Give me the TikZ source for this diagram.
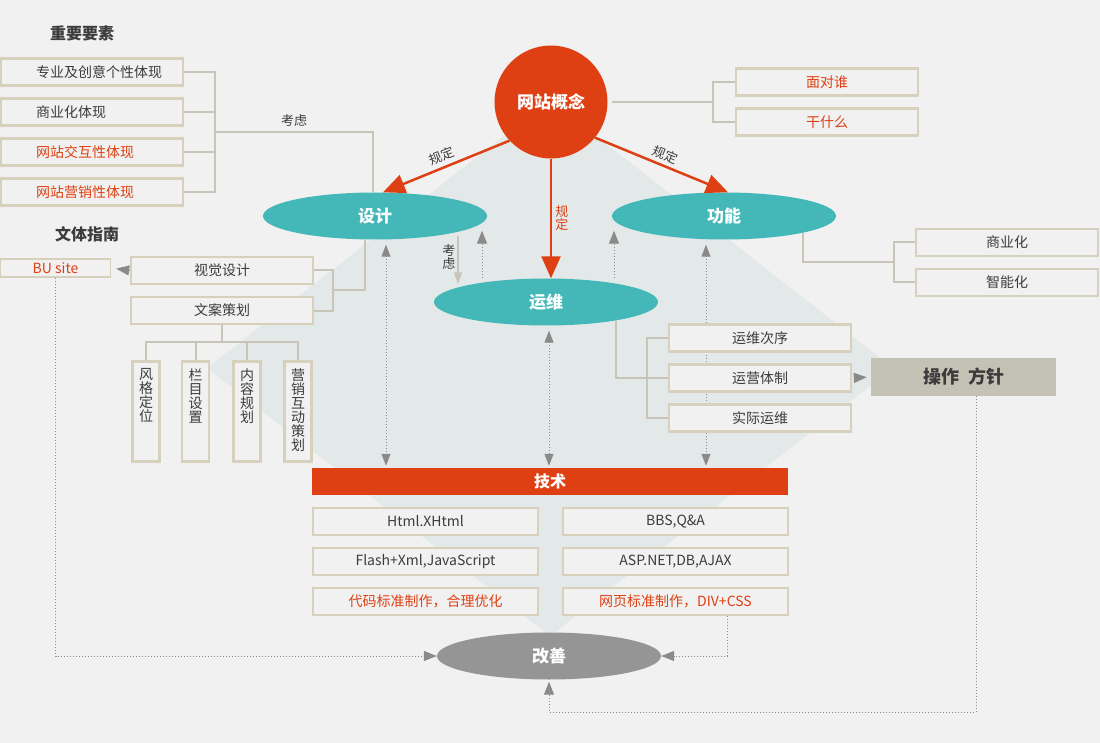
\documentclass[tikz,border=0pt]{standalone}
\usepackage{fontspec}
\setmainfont{Noto Sans CJK SC}
\usetikzlibrary{arrows.meta,shapes.geometric,positioning}
\definecolor{bgc}{HTML}{F0F1F0}
\definecolor{shadec}{HTML}{E3E8E8}
\definecolor{orng}{HTML}{DF4013}
\definecolor{tealc}{HTML}{44B8B8}
\definecolor{frm}{HTML}{D6D0BD}
\definecolor{lnk}{HTML}{C8C4B7}
\definecolor{tipc}{HTML}{8A8A8A}
\definecolor{txtc}{HTML}{3C3C3C}
\definecolor{grayell}{HTML}{959595}
\definecolor{czc}{HTML}{C4C1B5}
\newcommand{\sz}[1]{\fontsize{#1}{#1}\selectfont}
\newcommand{\vt}[1]{\parbox[t][86pt][t]{14pt}{\centering\sz{14}#1}}
\tikzset{
  box/.style={draw=frm, line width=2.5pt, fill=bgc, minimum width=182pt, minimum height=27pt, inner sep=0pt, text=txtc, font=\sz{14}},
  lbox/.style={box, align=left, text width=150pt, inner xsep=16pt, execute at begin node=\hspace*{19pt}},
  vbox/.style={box, minimum width=27pt, minimum height=0pt, inner xsep=6.5pt, inner ysep=7pt, anchor=north},
  tbox/.style={box, minimum width=225pt},
  hot/.style={text=orng},
  oval/.style={ellipse, fill=tealc, minimum width=224pt, minimum height=47pt, inner sep=0pt, text=white, font=\bfseries\sz{17}},
  head/.style={font=\bfseries\sz{16}, text=txtc},
  note/.style={font=\sz{13}, text=txtc, inner sep=1pt},
  tree/.style={draw=lnk, line width=2pt},
  rule/.style={draw=orng, line width=2.5pt, -{Triangle[width=19pt,length=22pt]}},
  dots/.style={draw=tipc, line width=1pt, dash pattern=on 1pt off 2pt},
  tip/.style={draw=tipc, line width=1pt, -{Triangle[width=10pt,length=13pt]}},
  tips/.style={draw=tipc, line width=1pt, {Triangle[width=9pt,length=12pt]}-{Triangle[width=9pt,length=12pt]}}
}
\begin{document}
\begin{tikzpicture}[x=1pt,y=-1pt]
  \fill[bgc] (0,0) rectangle (1100,743);
  \useasboundingbox (0,0) rectangle (1100,743);
  \fill[shadec] (550,100) -- (893,368) -- (550,636) -- (207,368) -- cycle;

  \node[circle, fill=orng, minimum size=113pt, inner sep=0pt, text=white, font=\bfseries\sz{17}] (idea) at (551,102) {网站概念};
  \node[oval] (design) at (375,216) {设计};
  \node[oval] (func) at (724,216) {功能};
  \node[oval] (ops) at (546,302) {运维};
  \node[oval, fill=grayell] (improve) at (549,656) {改善};

  \node[head] (keys) at (82,33) {重要要素};
  \node[lbox] (k1) at (92,72) {专业及创意个性体现};
  \node[lbox] (k2) at (92,112) {商业化体现};
  \node[lbox, hot] (k3) at (92,152) {网站交互性体现};
  \node[lbox, hot] (k4) at (92,192) {网站营销性体现};
  \coordinate (kj) at (215,132);
  \draw[tree] (k1.east) -| (kj);
  \draw[tree] (k4.east) -| (kj);
  \draw[tree] (k2.east) -- (k2.east -| kj);
  \draw[tree] (k3.east) -- (k3.east -| kj);
  \draw[tree] (kj) -| node[note, pos=0.25, above=4pt] {考虑} ([xshift=-2pt]design.north);

  \node[box, hot] (who) at (827,82) {面对谁};
  \node[box, hot] (what) at (827,122) {干什么};
  \coordinate (wj) at (713,102);
  \draw[tree] ([xshift=4pt]idea.east) -- (wj);
  \draw[tree] (who.west) -| (wj);
  \draw[tree] (what.west) -| (wj);

  \draw[rule] (idea.223) -- node[note, above=3pt, sloped] {规定} ([xshift=8pt]design.north);
  \draw[rule] (idea.-39) -- node[note, above=3pt, sloped] {规定} ([xshift=4pt]func.north);
  \draw[rule] (idea.south) -- node[note, hot, right=2pt, align=center] {规\\定} (idea.south |- ops.north);

  \draw[draw=lnk, line width=1.5pt, -{Triangle[width=8pt,length=12pt]}, shorten >=-6pt] ([xshift=83pt,yshift=4pt]design.south) -- node[note, left=1pt, align=center] {考\\虑} ([xshift=-88pt]ops.north);
  \draw[dots, tip, shorten >=-9pt] ([xshift=-64pt]ops.north) -- ([xshift=107pt]design.south);
  \draw[dots, tip, shorten >=-9pt] ([xshift=68pt]ops.north) -- ([xshift=-110pt]func.south);

  \node[fill=orng, minimum width=476pt, minimum height=27pt, inner sep=0pt, text=white, font=\bfseries\sz{16}] (tech) at (550,481.5) {技术};
  \draw[dots, tips, shorten <=5pt, shorten >=2pt] ([xshift=11pt]design.south) -- ([xshift=11pt]design.south |- tech.north);
  \draw[dots, tips, shorten <=5pt, shorten >=2pt] ([xshift=3pt]ops.south) -- ([xshift=3pt]ops.south |- tech.north);
  \draw[dots, tips, shorten <=5pt, shorten >=2pt] ([xshift=-18pt]func.south) -- ([xshift=-18pt]func.south |- tech.north);

  \node[head] (guide) at (87,234) {文体指南};
  \node[box, hot, line width=1.5pt, minimum width=110pt, minimum height=18pt] (bu) at (55.5,268) {BU site};
  \node[box] (visual) at (222,270.5) {视觉设计};
  \node[box] (copy) at (222,310.5) {文案策划};
  \coordinate (vj) at (333,290.5);
  \draw[tree] (visual.east) -| (vj);
  \draw[tree] (copy.east) -| (vj);
  \draw[tree] (vj) -| ([xshift=-10pt]design.south);
  \draw[tip, shorten >=5pt] (visual.west) -- (bu.east);

  \node[vbox] (v1) at (146,360) {\vt{风\\格\\定\\位}};
  \node[vbox] (v2) at (195.5,360) {\vt{栏\\目\\设\\置}};
  \node[vbox] (v3) at (247,360) {\vt{内\\容\\规\\划}};
  \node[vbox] (v4) at (298,360) {\vt{营\\销\\互\\动\\策\\划}};
  \coordinate (cj) at (222,342);
  \draw[tree] (copy.south) -- (cj);
  \draw[tree] (v1.north) |- (cj) -| (v4.north);
  \draw[tree] (v2.north) -- (v2.north |- cj);
  \draw[tree] (v3.north) -- (v3.north |- cj);
  \draw[dots, tip] (bu.south) |- (improve.west);

  \node[box] (biz) at (1007,242.5) {商业化};
  \node[box] (smart) at (1007,282.5) {智能化};
  \coordinate (fj) at (894,262);
  \draw[tree] ([xshift=79pt,yshift=7pt]func.south) |- (fj);
  \draw[tree] (biz.west) -| (fj);
  \draw[tree] (smart.west) -| (fj);

  \node[box] (seq) at (760,338) {运维次序};
  \node[box] (sys) at (760,378) {运营体制};
  \node[box] (real) at (760,418) {实际运维};
  \coordinate (oj) at (647,378);
  \draw[tree] ([xshift=70pt,yshift=5pt]ops.south) |- (oj);
  \draw[tree] (seq.west) -| (oj);
  \draw[tree] (real.west) -| (oj);
  \draw[tree] (sys.west) -- (oj);
  \node[fill=czc, minimum width=185pt, minimum height=38pt, inner sep=0pt, text=txtc, font=\bfseries\sz{18}] (policy) at (963.5,377) {操作\hspace{0.5em}方针};
  \draw[tip, shorten <=3pt, shorten >=4pt] (sys.east) -- (policy.west);
  \draw[dots, tip, shorten >=2pt] ([xshift=12.5pt]policy.south) -- ++(0,316) -| (improve.south);

  \node[tbox] (t1) at (425.5,521.5) {Html.XHtml};
  \node[tbox] (t2) at (425.5,561.5) {Flash+Xml,JavaScript};
  \node[tbox, hot] (t3) at (425.5,601.5) {代码标准制作，合理优化};
  \node[tbox] (t4) at (675.5,521.5) {BBS,Q\&A};
  \node[tbox] (t5) at (675.5,561.5) {ASP.NET,DB,AJAX};
  \node[tbox, hot] (t6) at (675.5,601.5) {网页标准制作，DIV+CSS};
  \draw[dots, tip] ([xshift=52pt]t6.south) |- (improve.east);
\end{tikzpicture}
\end{document}
